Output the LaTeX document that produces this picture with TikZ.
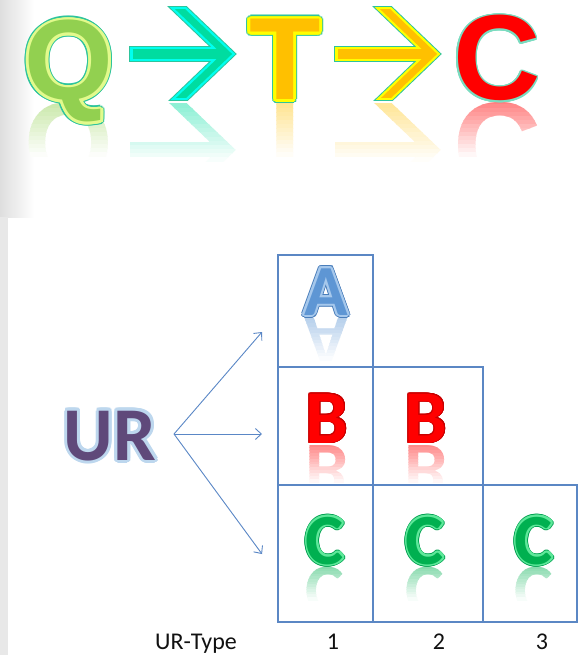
\documentclass[tikz,border=0pt]{standalone}
\usepackage{fontspec}
\usetikzlibrary{calc,arrows.meta}
\newfontfamily\arialf{Liberation Sans}
\newfontfamily\calf{Carlito}
\definecolor{qfill}{HTML}{92D050}
\definecolor{qband}{HTML}{E2FA8C}
\definecolor{tealedge}{HTML}{2EC49C}
\definecolor{mintfill}{HTML}{00DCA0}
\definecolor{cyanband}{HTML}{00FFF0}
\definecolor{ofill}{HTML}{FFC000}
\definecolor{oband}{HTML}{FFFF00}
\definecolor{redfill}{HTML}{FF0000}
\definecolor{redge}{HTML}{7ADCC0}
\definecolor{urfill}{HTML}{5F497A}
\definecolor{urglow}{HTML}{BDD7EE}
\definecolor{afill}{HTML}{5E96D4}
\definecolor{aband}{HTML}{A6C8EC}
\definecolor{aedge}{HTML}{4A7EBB}
\definecolor{bedge}{HTML}{C80000}
\definecolor{cfill}{HTML}{00B050}
\definecolor{cband}{HTML}{5EE89A}
\definecolor{cedge}{HTML}{00A050}
\definecolor{gridc}{HTML}{5B87C4}
\definecolor{arrc}{HTML}{5A87C6}
\definecolor{labc}{HTML}{111111}
\tikzset{
  fQ/.style={font=\arialf\bfseries\fontsize{114}{114}\selectfont},
  fT/.style={font=\arialf\bfseries\fontsize{117}{117}\selectfont},
  fC/.style={font=\arialf\bfseries\fontsize{121}{121}\selectfont},
  fUR/.style={font=\calf\bfseries\fontsize{76}{76}\selectfont},
  fA/.style={font=\calf\bfseries\fontsize{72}{72}\selectfont},
  fB/.style={font=\calf\bfseries\fontsize{76}{76}\selectfont},
  fCc/.style={font=\calf\bfseries\fontsize{72}{72}\selectfont},
  flab/.style={font=\calf\fontsize{24}{24}\selectfont, text=labc, anchor=base, inner sep=0pt},
  gridbox/.style={draw=gridc, line width=1.1pt, inner sep=0pt, outer sep=0pt},
  urarrow/.style={draw=arrc, line width=0.9pt, -{Straight Barb[length=6pt,width=11pt]}},
}
% halo copies of a text around a base point
\newcommand\halo[5]{\foreach \ang in {0,22.5,...,337.5}{\node[#3,anchor=base,inner sep=0pt] at ($(#1,#2)+(\ang:#4)$) {#5};}}
% faded mirrored copy: #1 x, #2 mirrored base y, #3 fade height, #4 font style, #5 colour, #6 max strength, #7 text
\newcommand\refltext[7]{\foreach \i in {0,...,13}{%
  \pgfmathsetmacro\yA{#2-3+\i*#3/14}%
  \pgfmathsetmacro\yB{#2-3+(\i+1)*#3/14}%
  \pgfmathtruncatemacro\pct{#6*100*(1-\i/14)}%
  \begin{scope}
   \clip (#1-75,\yA) rectangle (#1+75,\yB);
   \node[#4,anchor=base,yscale=-1,inner sep=0pt,text=#5!\pct!white] at (#1,#2) {#7};
  \end{scope}}}
% arrow glyph: #1 x shift, #2 colour, #3 width change
\newcommand\arrowshape[3]{%
 \begin{scope}[shift={(#1,0)}]
  \clip (120,{7-#3/2}) rectangle (250,{100+#3/2});
  \draw[#2,line width={15+#3}] ({130-#3/2},54) -- (222,54);
  \draw[#2,line width={12+#3},miter limit=20] (169.5,-1) -- (227,54) -- (169.5,109);
 \end{scope}}
\newcommand\arrowrefl[3]{\foreach \i in {0,...,13}{%
  \pgfmathsetmacro\yA{100-(\i+1)*58/14}%
  \pgfmathsetmacro\yB{100-\i*58/14}%
  \pgfmathtruncatemacro\pct{#3*100*(1-\i/14)}%
  \begin{scope}[shift={(0,204)},yscale=-1]
   \clip (0,\yA) rectangle (585,\yB);
   \arrowshape{#1}{#2!\pct!white}{0}
  \end{scope}}}
\begin{document}
\begin{tikzpicture}[x=1pt,y=-1pt]
\useasboundingbox (0,0) rectangle (585,655);
\fill[white] (0,0) rectangle (585,655);
\shade[left color=black!13, right color=white] (0,0) rectangle (34,217);
\fill[black!9] (0,217) rectangle (8,655);

% ---------- title Q -> T -> C ----------
\refltext{69}{104}{56}{fQ}{qfill}{0.5}{Q}
\refltext{285}{104}{56}{fT}{ofill}{0.45}{T}
\refltext{497}{104}{56}{fC}{redfill}{0.5}{C}
\arrowrefl{0}{mintfill}{0.45}
\arrowrefl{205}{ofill}{0.4}

\halo{69}{100}{fQ,text=tealedge}{4}{Q}
\halo{69}{100}{fQ,text=qband}{2.8}{Q}
\node[fQ,text=qfill,anchor=base,inner sep=0pt] (Q) at (69,100) {Q};

\arrowshape{0}{tealedge}{1.5}
\arrowshape{0}{cyanband}{-0.5}
\arrowshape{0}{mintfill}{-5}
\coordinate (arrowone) at (180,54);

\halo{285}{100}{fT,text=tealedge}{4}{T}
\halo{285}{100}{fT,text=oband}{2.8}{T}
\node[fT,text=ofill,anchor=base,inner sep=0pt] (T) at (285,100) {T};

\arrowshape{205}{tealedge}{1.5}
\arrowshape{205}{oband}{-0.5}
\arrowshape{205}{ofill}{-5}
\coordinate (arrowtwo) at (385,54);

\halo{497}{100}{fC,text=redge}{1.5}{C}
\node[fC,text=redfill,anchor=base,inner sep=0pt] (C) at (497,100) {C};

% ---------- grid ----------
\node[gridbox, minimum width=95, minimum height=112] (bA1) at (325.5,311) {};
\node[gridbox, minimum width=95, minimum height=118] (bB1) at (325.5,426) {};
\node[gridbox, minimum width=110, minimum height=118] (bB2) at (428,426) {};
\node[gridbox, minimum width=95, minimum height=137] (bC1) at (325.5,553.5) {};
\node[gridbox, minimum width=110, minimum height=137] (bC2) at (428,553.5) {};
\node[gridbox, minimum width=94, minimum height=137] (bC3) at (530,553.5) {};

% letters in the grid
\refltext{326}{317}{46}{fA}{afill}{0.5}{A}
\halo{326}{315}{fA,text=aedge}{3}{A}
\halo{326}{315}{fA,text=aband}{2}{A}
\node[fA,text=afill,anchor=base,inner sep=0pt] (lA) at (326,315) {A};

\foreach \xx/\nm in {327/lB1,426/lB2}{
  \refltext{\xx}{445}{40}{fB}{redfill}{0.5}{B}
  \halo{\xx}{443}{fB,text=bedge}{0.8}{B}
  \node[fB,text=redfill,anchor=base,inner sep=0pt] (\nm) at (\xx,443) {B};
}
\foreach \xx/\nm in {325/lC1,425/lC2,534/lC3}{
  \refltext{\xx}{567}{36}{fCc}{cfill}{0.5}{C}
  \halo{\xx}{564}{fCc,text=cedge}{2.6}{C}
  \halo{\xx}{564}{fCc,text=cband}{1.5}{C}
  \node[fCc,text=cfill,anchor=base,inner sep=0pt] (\nm) at (\xx,564) {C};
}

% ---------- UR ----------
\halo{110}{460}{fUR,text=urglow}{3}{UR}
\node[fUR,text=urfill,anchor=base,inner sep=0pt] (UR) at (110,460) {UR};
\coordinate (urout) at (174,434);
\coordinate (ta) at (262,332);
\coordinate (tb) at (262,434);
\coordinate (tc) at (262,554);
\draw[urarrow] (urout) -- (ta);
\draw[urarrow] (urout) -- (tb);
\draw[urarrow] (urout) -- (tc);

% ---------- labels ----------
\node[flab] (urtype) at (196,649) {UR-Type};
\node[flab] (n1) at (333,649) {1};
\node[flab] (n2) at (439,649) {2};
\node[flab] (n3) at (542,649) {3};
\end{tikzpicture}
\end{document}
